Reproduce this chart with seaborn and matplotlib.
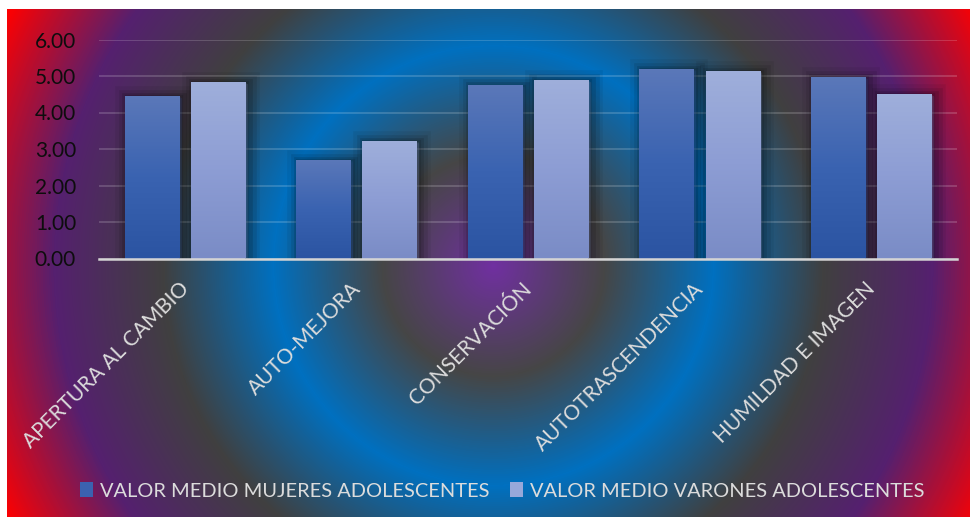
import numpy as np
import pandas as pd
import matplotlib
matplotlib.use("Agg")
import matplotlib.pyplot as plt
import matplotlib.patheffects as pe
from matplotlib.colors import LinearSegmentedColormap, to_rgb
from matplotlib.patches import Patch
from matplotlib.transforms import ScaledTranslation
import seaborn as sns

# ---------------- data ----------------
categorias = ["APERTURA AL CAMBIO", "AUTO-MEJORA", "CONSERVACIÓN",
              "AUTOTRASCENDENCIA", "HUMILDAD E IMAGEN"]
mujeres = [4.45, 2.70, 4.75, 5.19, 4.97]
varones = [4.84, 3.22, 4.89, 5.14, 4.51]
serie_mujeres = "VALOR MEDIO MUJERES ADOLESCENTES"
serie_varones = "VALOR MEDIO VARONES ADOLESCENTES"
y_ticks = [0, 1, 2, 3, 4, 5, 6]

df = pd.DataFrame({
    "categoria": categorias * 2,
    "valor": mujeres + varones,
    "serie": [serie_mujeres] * len(categorias) + [serie_varones] * len(categorias),
})

# ---------------- style ----------------
sns.set_theme(style="white")
plt.rcParams["font.family"] = ["Lato", "DejaVu Sans"]

W_PX, H_PX, DPI = 974, 521, 100
fig = plt.figure(figsize=(W_PX / DPI, H_PX / DPI), dpi=DPI)
fig.patch.set_facecolor("white")

# ---------------- radial gradient background ----------------
bx0, by0, bx1, by1 = 7, 9, 969, 517
bw, bh = bx1 - bx0, by1 - by0
bg_ax = fig.add_axes([bx0 / W_PX, 1 - by1 / H_PX, bw / W_PX, bh / H_PX])
yy, xx = np.mgrid[0:bh, 0:bw]
cx, cy, R = 493 - bx0, 266 - by0, 549.0
d = np.clip(np.hypot(xx + 0.5 - cx, yy + 0.5 - cy) / R, 0, 1)
stops = [(0.0, "#7030a0"), (0.2, "#464646"), (0.4, "#0070c0"),
         (0.6, "#404040"), (0.8, "#55206f"), (1.0, "#ff0000")]
bg_cmap = LinearSegmentedColormap.from_list("bg", stops)
bg_ax.imshow(bg_cmap(d), aspect="auto", interpolation="bilinear")
bg_ax.set_axis_off()

# ---------------- main axes ----------------
ax = fig.add_axes([99 / W_PX, 1 - 258.5 / H_PX, (957 - 99) / W_PX, (258.5 - 39.5) / H_PX])
ax.set_facecolor("none")

c_muj = "#3d63b0"
c_var = "#8e9fd3"
sns.barplot(data=df, x="categoria", y="valor", hue="serie",
            palette=[c_muj, c_var], width=0.77, gap=0.18, ax=ax,
            saturation=1.0, edgecolor="none", linewidth=0, zorder=3)

ax.set_ylim(0, 6)
ax.set_xlim(-0.5, len(categorias) - 0.5)
ax.set_yticks(y_ticks)
ax.set_yticklabels([f"{v:.2f}" for v in y_ticks])
ax.set_xlabel("")
ax.set_ylabel("")

# gradient fills and soft shadows on bars
grad_muj = LinearSegmentedColormap.from_list("gm", ["#2b54a2", "#3a63b1", "#5b78b9"])
grad_var = LinearSegmentedColormap.from_list("gv", ["#7a8cc6", "#8d9dd4", "#9fafdb"])
shadow = [pe.Stroke(linewidth=17, foreground="black", alpha=0.06, offset=(2, -1.5)),
          pe.Stroke(linewidth=12, foreground="black", alpha=0.09, offset=(2, -1.5)),
          pe.Stroke(linewidth=7, foreground="black", alpha=0.12, offset=(2, -1.5)),
          pe.Stroke(linewidth=3, foreground="black", alpha=0.12, offset=(1.5, -1)),
          pe.Normal()]
grad_arr = np.linspace(0, 1, 256).reshape(-1, 1)
for p in list(ax.patches):
    fc = to_rgb(p.get_facecolor())
    cmap = grad_muj if np.allclose(fc, to_rgb(c_muj), atol=0.02) else grad_var
    p.set_path_effects(shadow)
    x, w = p.get_x(), p.get_width()
    y, h = p.get_y(), p.get_height()
    im = ax.imshow(grad_arr, cmap=cmap, extent=[x, x + w, y, y + h],
                   origin="lower", aspect="auto", zorder=3.5, interpolation="bilinear")
    im.set_clip_path(p)
ax.set_ylim(0, 6)
ax.set_xlim(-0.5, len(categorias) - 0.5)
ax.set_aspect("auto")

# grid and spines
ax.yaxis.grid(True, color="white", alpha=0.18, linewidth=1.3, zorder=1)
ax.xaxis.grid(False)
ax.set_axisbelow(True)
for s in ["top", "right", "left"]:
    ax.spines[s].set_visible(False)
ax.spines["bottom"].set_color("#d4d4d4")
ax.spines["bottom"].set_linewidth(1.8)
ax.spines["bottom"].set_zorder(5)

ax.tick_params(axis="y", length=0, pad=16.5, labelsize=15, labelcolor="#0d0d0d")
ax.tick_params(axis="x", length=0, pad=14.5, labelsize=15, labelcolor="#dcdcdc")
offset = ScaledTranslation(8 / DPI, 0, fig.dpi_scale_trans)
for lab in ax.get_xticklabels():
    lab.set_rotation(45)
    lab.set_ha("right")
    lab.set_va("top")
    lab.set_transform(lab.get_transform() + offset)

# legend
if ax.legend_ is not None:
    ax.legend_.remove()
handles = [Patch(facecolor="#3b62b0", edgecolor="none"),
           Patch(facecolor="#97a8da", edgecolor="none")]
labels = [serie_mujeres, serie_varones]
leg = fig.legend(handles, labels, loc="center", bbox_to_anchor=(502 / W_PX, 1 - 491 / H_PX),
                 ncol=2, frameon=False, fontsize=14.4, labelcolor="#dcdcdc",
                 handlelength=0.65, handleheight=0.75, handletextpad=0.35,
                 columnspacing=1.0, borderpad=0)

fig.savefig("out.png", dpi=DPI)
